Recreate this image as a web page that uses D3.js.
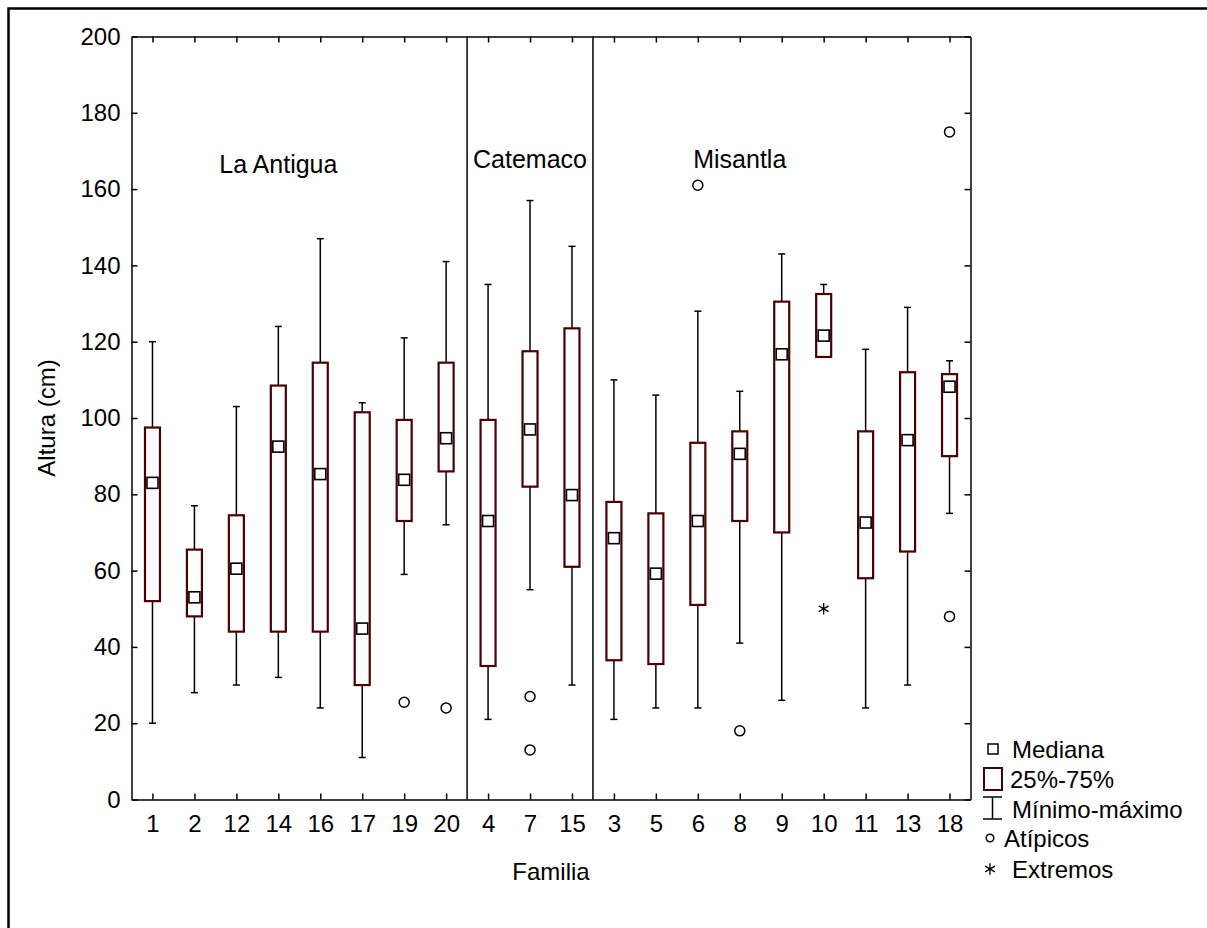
<!DOCTYPE html>
<html>
<head>
<meta charset="utf-8">
<script src="https://cdn.jsdelivr.net/npm/d3@7"></script>
<style>
  body { margin: 0; background: #fff; overflow: hidden; }
  text { font-family: "Liberation Sans", Arial, sans-serif; fill: #000; }
</style>
</head>
<body>
<div id="chart"></div>
<script>
// families in plotting order
const families = ["1", "2", "12", "14", "16", "17", "19", "20", "4", "7", "15", "3", "5", "6", "8", "9", "10", "11", "13", "18"];
const whiskerMin = [20, 28, 30, 32, 24, 11, 59, 72, 21, 55, 30, 21, 24, 24, 41, 26, 116, 24, 30, 75];
const q1 = [52, 48, 44, 44, 44, 30, 73, 86, 35, 82, 61, 36.5, 35.5, 51, 73, 70, 116, 58, 65, 90];
const median = [83, 53, 60.5, 92.5, 85.3, 44.8, 83.8, 94.7, 73, 97, 79.8, 68.5, 59.2, 73, 90.6, 116.7, 121.6, 72.6, 94.2, 108.2];
const q3 = [97.5, 65.5, 74.5, 108.5, 114.5, 101.5, 99.5, 114.5, 99.5, 117.5, 123.5, 78, 75, 93.5, 96.5, 130.5, 132.5, 96.5, 112, 111.5];
const whiskerMax = [120, 77, 103, 124, 147, 104, 121, 141, 135, 157, 145, 110, 106, 128, 107, 143, 135, 118, 129, 115];

// outliers and extremes: [family, value]
const outliers = [["19", 25.5], ["20", 24], ["7", 27], ["7", 13], ["6", 161], ["8", 18], ["18", 175], ["18", 48]];
const extremes = [["10", 50]];

// groups of families (regions)
const groupNames = ["La Antigua", "Catemaco", "Misantla"];
const groupSizes = [8, 3, 9];
const groupLabelAt = ["14", "7", "8"];
const groupLabelY = [164.3, 165.4, 165.6];

const yTicks = [0, 20, 40, 60, 80, 100, 120, 140, 160, 180, 200];
const legendLabels = ["Mediana", "25%-75%", "Mínimo-máximo", "Atípicos", "Extremos"];

const W = 1207, H = 928;
const margin = { top: 36.5, right: 236.5, bottom: 128.5, left: 131.5 };
const width = W - margin.left - margin.right;
const height = H - margin.top - margin.bottom;
const boxColor = "#4a0000";
const fontSize = 24;

const svg = d3.select("#chart").append("svg")
  .attr("width", W)
  .attr("height", H)
  .style("display", "block");

// outer frame: only top and left edges are inside the picture
svg.append("path")
  .attr("d", "M8.5," + H + "V8.5H" + W)
  .attr("fill", "none").attr("stroke", "#000").attr("stroke-width", 2.5);

const g = svg.append("g")
  .attr("transform", "translate(" + margin.left + "," + margin.top + ")");

const x = d3.scalePoint().domain(families).range([0, width]).padding(0.5);
const y = d3.scaleLinear().domain([0, 200]).range([height, 0]);

const data = families.map((f, i) => ({
  fam: f, lo: whiskerMin[i], q1: q1[i], med: median[i], q3: q3[i], hi: whiskerMax[i]
}));

// axes: ticks pointing inward on all four sides
const styleAxis = (sel) => {
  sel.select(".domain").attr("stroke-width", 1.5);
  sel.selectAll(".tick line").attr("stroke-width", 1.5);
  sel.selectAll(".tick text").attr("font-size", fontSize).attr("font-family", "Liberation Sans, Arial, sans-serif");
};

g.append("g")
  .attr("transform", "translate(0," + height + ")")
  .call(d3.axisBottom(x).tickSize(-6).tickSizeOuter(0).tickPadding(15))
  .call(styleAxis);

g.append("g")
  .call(d3.axisTop(x).tickSize(-6).tickSizeOuter(0).tickFormat(""))
  .call(styleAxis);

g.append("g")
  .call(d3.axisLeft(y).tickValues(yTicks).tickSize(-6).tickSizeOuter(0).tickPadding(11))
  .call(styleAxis);

g.append("g")
  .attr("transform", "translate(" + width + ",0)")
  .call(d3.axisRight(y).tickValues(yTicks).tickSize(-6).tickSizeOuter(0).tickFormat(""))
  .call(styleAxis);

// group dividers and names
let start = 0;
groupSizes.forEach((n, i) => {
  if (i > 0) {
    const xa = x(families[start - 1]), xb = x(families[start]);
    g.append("line")
      .attr("x1", (xa + xb) / 2).attr("x2", (xa + xb) / 2)
      .attr("y1", 0).attr("y2", height)
      .attr("stroke", "#000").attr("stroke-width", 1.5);
  }
  g.append("text")
    .attr("x", x(groupLabelAt[i]))
    .attr("y", y(groupLabelY[i]))
    .attr("text-anchor", "middle")
    .attr("font-size", 25)
    .text(groupNames[i]);
  start += n;
});

const boxW = 15, capW = 7;

const box = g.append("g").selectAll("g")
  .data(data)
  .join("g")
  .attr("transform", (d) => "translate(" + x(d.fam) + ",0)");

box.append("line")
  .attr("y1", (d) => y(d.lo)).attr("y2", (d) => y(d.hi))
  .attr("stroke", "#000").attr("stroke-width", 1.5);

box.append("line")
  .attr("x1", -capW / 2).attr("x2", capW / 2)
  .attr("y1", (d) => y(d.hi)).attr("y2", (d) => y(d.hi))
  .attr("stroke", "#000").attr("stroke-width", 1.5);

box.append("line")
  .attr("x1", -capW / 2).attr("x2", capW / 2)
  .attr("y1", (d) => y(d.lo)).attr("y2", (d) => y(d.lo))
  .attr("stroke", "#000").attr("stroke-width", 1.5);

box.append("rect")
  .attr("x", -boxW / 2).attr("width", boxW)
  .attr("y", (d) => y(d.q3))
  .attr("height", (d) => y(d.q1) - y(d.q3))
  .attr("fill", "#fff").attr("stroke", boxColor).attr("stroke-width", 2.2);

box.append("rect")
  .attr("x", -5.5).attr("width", 11)
  .attr("y", (d) => y(d.med) - 5.5).attr("height", 11)
  .attr("fill", "#fff").attr("stroke", "#000").attr("stroke-width", 1.6);

g.append("g").selectAll("circle")
  .data(outliers)
  .join("circle")
  .attr("cx", (d) => x(d[0]))
  .attr("cy", (d) => y(d[1]))
  .attr("r", 5)
  .attr("fill", "none").attr("stroke", "#000").attr("stroke-width", 1.5);

const star = d3.symbol().type(d3.symbolAsterisk).size(90);
g.append("g").selectAll("path")
  .data(extremes)
  .join("path")
  .attr("transform", (d) => "translate(" + x(d[0]) + "," + y(d[1]) + ")")
  .attr("d", star)
  .attr("fill", "none").attr("stroke", "#000").attr("stroke-width", 1.3);

// axis titles
g.append("text")
  .attr("x", width / 2)
  .attr("y", height + 80)
  .attr("text-anchor", "middle")
  .attr("font-size", fontSize)
  .text("Familia");

svg.append("text")
  .attr("transform", "translate(55," + (margin.top + y(100)) + ") rotate(-90)")
  .attr("text-anchor", "middle")
  .attr("font-size", fontSize)
  .text("Altura (cm)");

// legend
const lg = svg.append("g").attr("transform", "translate(983,740)");
const rowY = [9, 39, 69, 98, 129];

lg.append("rect").attr("x", 5).attr("y", rowY[0] - 5).attr("width", 10).attr("height", 10)
  .attr("fill", "#fff").attr("stroke", "#000").attr("stroke-width", 1.5);
lg.append("rect").attr("x", 1).attr("y", rowY[1] - 11).attr("width", 18).attr("height", 22)
  .attr("fill", "#fff").attr("stroke", boxColor).attr("stroke-width", 2);
lg.append("line").attr("x1", 9.5).attr("x2", 9.5).attr("y1", rowY[2] - 12).attr("y2", rowY[2] + 10)
  .attr("stroke", "#000").attr("stroke-width", 1.5);
lg.append("line").attr("x1", 0).attr("x2", 19).attr("y1", rowY[2] - 12).attr("y2", rowY[2] - 12)
  .attr("stroke", "#000").attr("stroke-width", 1.5);
lg.append("line").attr("x1", 0).attr("x2", 19).attr("y1", rowY[2] + 10).attr("y2", rowY[2] + 10)
  .attr("stroke", "#000").attr("stroke-width", 1.5);
lg.append("circle").attr("cx", 7).attr("cy", rowY[3]).attr("r", 3.8)
  .attr("fill", "none").attr("stroke", "#000").attr("stroke-width", 1.5);
lg.append("path").attr("transform", "translate(7," + rowY[4] + ")").attr("d", star)
  .attr("fill", "none").attr("stroke", "#000").attr("stroke-width", 1.3);

const textX = [29, 27, 29, 21, 29];
lg.selectAll("text.lab")
  .data(legendLabels)
  .join("text")
  .attr("class", "lab")
  .attr("x", (d, i) => textX[i])
  .attr("y", (d, i) => rowY[i])
  .attr("dy", "0.36em")
  .attr("font-size", fontSize)
  .text((d) => d);
</script>
</body>
</html>
